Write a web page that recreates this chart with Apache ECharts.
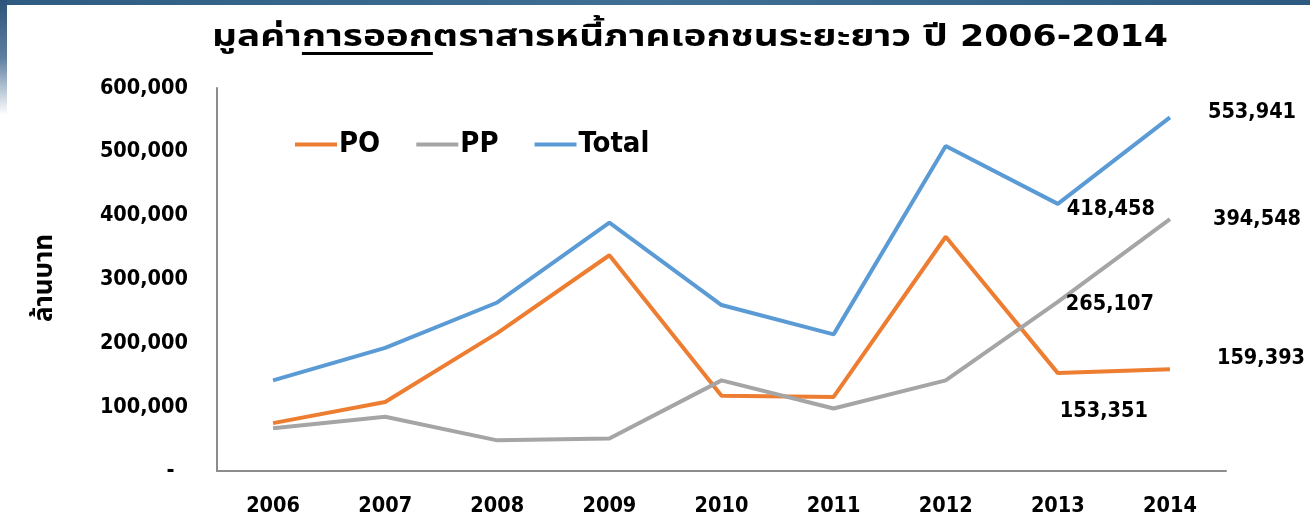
<!DOCTYPE html>
<html>
<head>
<meta charset="utf-8">
<script src="https://cdn.jsdelivr.net/npm/echarts@6/dist/echarts.min.js"></script>
<style>
    html, body { margin: 0; padding: 0; background: #ffffff; }
    #chart { width: 1310px; height: 520px; }
</style>
</head>
<body>
<div id="chart"></div>
<script>
    // data
    var years = ['2006', '2007', '2008', '2009', '2010', '2011', '2012', '2013', '2014'];
    var poValues = [75000, 108000, 216000, 338000, 118000, 116000, 367000, 153351, 159393];
    var ppValues = [67000, 85000, 48000, 51000, 142000, 98000, 142000, 265107, 394548];
    var totalValues = [142000, 193000, 264000, 389000, 260000, 214000, 509000, 418458, 553941];
    var labelledYears = ['2013', '2014'];
    var yTicks = [0, 100000, 200000, 300000, 400000, 500000, 600000];

    var titleStart = 'มูลค่า';
    var titleUnder = 'การออก';
    var titleEnd = 'ตราสารหนี้ภาคเอกชนระยะยาว ปี 2006-2014';

    var FONT = '"DejaVu Sans Condensed", "DejaVu Sans", sans-serif';
    var TITLE_FONT = '"DejaVu Sans Condensed", "Noto Sans Thai", "Noto Sans", sans-serif';

    // label placement for the annotated points (style only)
    var labelStyle = {
        'Total': {'2013': {distance: 9, offset: [0, 6]}, '2014': {distance: 38, offset: [0, -5]}},
        'PP': {'2013': {distance: 8, offset: [0, 3]}, '2014': {distance: 43, offset: [0, 0]}},
        'PO': {'2013': {distance: 2, offset: [0, 38]}, '2014': {distance: 47, offset: [0, -11]}}
    };

    function withLabels(name, values) {
        return values.map(function (v, i) {
            var y = years[i];
            if (labelledYears.indexOf(y) < 0) return v;
            var s = labelStyle[name][y];
            return {
                value: v,
                label: {
                    show: true,
                    position: 'right',
                    distance: s.distance,
                    offset: s.offset,
                    color: '#000',
                    fontFamily: FONT,
                    fontWeight: 'bold',
                    fontSize: 21.5,
                    formatter: function (p) { return p.value.toLocaleString('en-US'); }
                }
            };
        });
    }

    function lineSeries(name, values, color) {
        return {
            name: name,
            type: 'line',
            data: withLabels(name, values),
            symbol: 'circle',
            symbolSize: 0,
            showSymbol: true,
            lineStyle: {color: color, width: 4},
            itemStyle: {color: color},
            emphasis: {disabled: true},
            animation: false
        };
    }

    // measure title pieces so the underline sits under the right word
    var ctx = document.createElement('canvas').getContext('2d');
    var titleSize = 30;
    ctx.font = 'bold ' + titleSize + 'px ' + TITLE_FONT;
    var wStart = ctx.measureText(titleStart).width;
    var wUnder = ctx.measureText(titleUnder).width;
    var wAll = ctx.measureText(titleStart + titleUnder + titleEnd).width;
    var titleCx = 690;
    var titleWidth = 956;
    var titleScale = titleWidth / wAll;
    var titleLeft = titleCx - titleWidth / 2;

    var chart = echarts.init(document.getElementById('chart'));
    chart.setOption({
        animation: false,
        grid: {left: 217, right: 84, top: 88, bottom: 49},
        graphic: [
            {
                type: 'rect',
                shape: {x: 0, y: 0, width: 1310, height: 5},
                style: {fill: new echarts.graphic.LinearGradient(0, 0, 1, 0, [
                    {offset: 0, color: '#2f5b82'}, {offset: 0.5, color: '#3f6f95'}, {offset: 1, color: '#2e5a80'}
                ])},
                silent: true
            },
            {
                type: 'rect',
                shape: {x: 0, y: 0, width: 7, height: 115},
                style: {fill: new echarts.graphic.LinearGradient(0, 0, 0, 1, [
                    {offset: 0, color: '#2c5379'}, {offset: 0.5, color: '#5d7fa0'}, {offset: 1, color: '#ffffff'}
                ])},
                silent: true
            },
            {
                type: 'text',
                x: titleCx,
                y: 38,
                scaleX: titleScale,
                style: {
                    text: titleStart + titleUnder + titleEnd,
                    font: 'bold ' + titleSize + 'px ' + TITLE_FONT,
                    fill: '#000',
                    align: 'center',
                    verticalAlign: 'middle'
                },
                silent: true
            },
            {
                type: 'rect',
                shape: {x: titleLeft + wStart * titleScale, y: 52, width: wUnder * titleScale, height: 3},
                style: {fill: '#000'},
                silent: true
            },
            {
                type: 'text',
                x: 45,
                y: 278,
                rotation: Math.PI / 2,
                style: {
                    text: 'ล้านบาท',
                    font: 'bold 26px ' + TITLE_FONT,
                    fill: '#000',
                    align: 'center',
                    verticalAlign: 'middle'
                },
                silent: true
            }
        ],
        legend: {
            left: 290,
            top: 125,
            icon: 'rect',
            itemWidth: 42,
            itemHeight: 4,
            itemGap: 36,
            textStyle: {fontFamily: FONT, fontWeight: 'bold', fontSize: 29, color: '#000', padding: [0, 0, 0, -3]},
            data: ['PO', 'PP', 'Total']
        },
        xAxis: {
            type: 'category',
            data: years,
            boundaryGap: true,
            axisLine: {lineStyle: {color: '#8c8c8c', width: 2}},
            axisTick: {show: false},
            axisLabel: {fontFamily: FONT, fontWeight: 'bold', fontSize: 21.5, color: '#000', margin: 24}
        },
        yAxis: {
            type: 'value',
            min: yTicks[0],
            max: yTicks[yTicks.length - 1],
            interval: yTicks[1] - yTicks[0],
            axisLine: {show: true, lineStyle: {color: '#8c8c8c', width: 2}},
            axisTick: {show: false},
            splitLine: {show: false},
            axisLabel: {
                fontFamily: FONT, fontWeight: 'bold', fontSize: 21.5, color: '#000', margin: 29,
                formatter: function (v) { return v === 0 ? '-  ' : v.toLocaleString('en-US'); }
            }
        },
        series: [
            lineSeries('PO', poValues, '#ed7d31'),
            lineSeries('PP', ppValues, '#a5a5a5'),
            lineSeries('Total', totalValues, '#5b9bd5')
        ]
    });
</script>
</body>
</html>
